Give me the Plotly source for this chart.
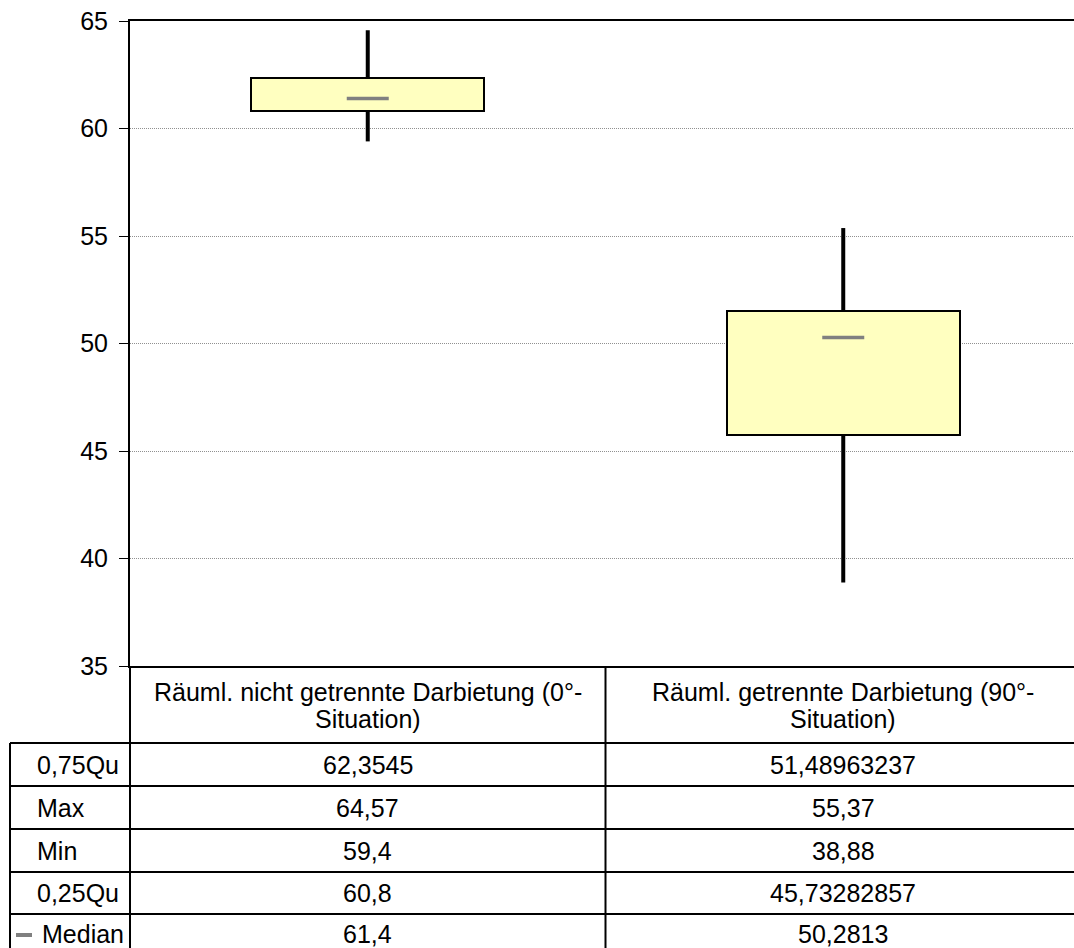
import plotly.graph_objects as go

# ---------------- data ----------------
cat_lines = [
    ["Räuml. nicht getrennte Darbietung (0°-", "Situation)"],
    ["Räuml. getrennte Darbietung (90°-", "Situation)"],
]
categories = ["".join(c) for c in cat_lines]

q3_vals = [62.3545, 51.48963237]
max_vals = [64.57, 55.37]
min_vals = [59.4, 38.88]
q1_vals = [60.8, 45.73282857]
median_vals = [61.4, 50.2813]

row_labels = ["0,75Qu", "Max", "Min", "0,25Qu", "Median"]
row_texts = [
    ["62,3545", "51,48963237"],
    ["64,57", "55,37"],
    ["59,4", "38,88"],
    ["60,8", "45,73282857"],
    ["61,4", "50,2813"],
]

y_ticks = [35, 40, 45, 50, 55, 60, 65]

# ---------------- layout constants ----------------
W, H = 1074, 948
ML, MT, MB = 130, 21, 282
PLOT_BOTTOM = H - MB  # 666
PW = W - ML
PH = PLOT_BOTTOM - MT
FONT = "Liberation Sans, Arial, sans-serif"
FS = 25


def py(p):
    return (PLOT_BOTTOM - p) / PH


def px(x):
    return (x - ML) / PW


fig = go.Figure()

# whiskers
for i, c in enumerate(categories):
    fig.add_trace(go.Scatter(
        x=[c, c, None, c, c],
        y=[min_vals[i], q1_vals[i], None, q3_vals[i], max_vals[i]],
        mode="lines", line=dict(color="black", width=4),
        showlegend=False, hoverinfo="skip", cliponaxis=False))

# boxes
fig.add_trace(go.Bar(
    x=categories,
    y=[q3_vals[i] - q1_vals[i] for i in range(len(categories))],
    base=q1_vals,
    width=0.49,
    marker=dict(color="#FFFFC0", line=dict(color="black", width=2)),
    showlegend=False, hoverinfo="skip"))

# medians
fig.add_trace(go.Scatter(
    x=categories, y=median_vals, mode="markers",
    marker=dict(symbol="line-ew", size=30,
                line=dict(color="#808080", width=3.5)),
    showlegend=False, hoverinfo="skip"))

shapes = []
annotations = []
LINE = dict(color="black", width=2)

# vertical table lines
shapes.append(dict(type="line", xref="paper", yref="paper",
                   x0=0, x1=0, y0=py(PLOT_BOTTOM), y1=py(H + 5), line=LINE))
shapes.append(dict(type="line", xref="paper", yref="paper",
                   x0=px(10), x1=px(10), y0=py(743), y1=py(H + 5), line=LINE))
shapes.append(dict(type="line", xref="x", yref="paper",
                   x0=0.5, x1=0.5, y0=py(PLOT_BOTTOM), y1=py(H + 5), line=LINE))

# horizontal table lines
row_edges = [743, 786, 829, 872, 914, H + 43]
for p in row_edges[:-1]:
    shapes.append(dict(type="line", xref="paper", yref="paper",
                       x0=px(10), x1=1.02, y0=py(p), y1=py(p), line=LINE))

# header (category) labels
for c, lines in zip(categories, cat_lines):
    for j, t in enumerate(lines):
        annotations.append(dict(
            x=c, xref="x", y=py(692 + j * 27), yref="paper",
            text=t, showarrow=False, xanchor="center", yanchor="middle",
            font=dict(family=FONT, size=FS, color="black")))

# rows
for r, lab in enumerate(row_labels):
    yc = py((row_edges[r] + row_edges[r + 1]) / 2 if r < 4 else 934)
    xl = 40 if lab == "Median" else 35
    annotations.append(dict(
        x=px(xl), xref="paper", y=yc, yref="paper", text=lab,
        showarrow=False, xanchor="left", yanchor="middle",
        font=dict(family=FONT, size=FS, color="black")))
    for i, c in enumerate(categories):
        annotations.append(dict(
            x=c, xref="x", y=yc, yref="paper", text=row_texts[r][i],
            showarrow=False, xanchor="center", yanchor="middle",
            font=dict(family=FONT, size=FS, color="black")))

# legend glyph for Median
shapes.append(dict(type="line", xref="paper", yref="paper",
                   x0=px(16), x1=px(32), y0=py(935), y1=py(935),
                   line=dict(color="#808080", width=4)))

fig.update_layout(
    width=W, height=H,
    margin=dict(l=ML, r=0, t=MT, b=MB, pad=0),
    paper_bgcolor="white", plot_bgcolor="white",
    showlegend=False,
    shapes=shapes, annotations=annotations,
    font=dict(family=FONT, size=FS, color="black"),
    bargap=0,
)
fig.update_xaxes(
    type="category", categoryorder="array", categoryarray=categories,
    range=[-0.5, -0.5 + 2 * PW / 951],
    showline=True, mirror=True, linecolor="black", linewidth=2,
    showgrid=False, ticks="", showticklabels=False, zeroline=False,
)
fig.update_yaxes(
    range=[35, 65], tickvals=y_ticks,
    showline=True, linecolor="black", linewidth=2,
    ticks="outside", ticklen=9, tickwidth=1, tickcolor="black",
    ticklabelstandoff=6,
    tickfont=dict(family=FONT, size=FS, color="black"),
    showgrid=True, gridcolor="#909090", gridwidth=1, griddash="1px,1px",
    zeroline=False,
)

fig.write_html(
    "out.html",
    config={"displayModeBar": False},
    post_script="document.body.style.margin='0px';"
                "document.body.style.overflow='hidden';",
)
